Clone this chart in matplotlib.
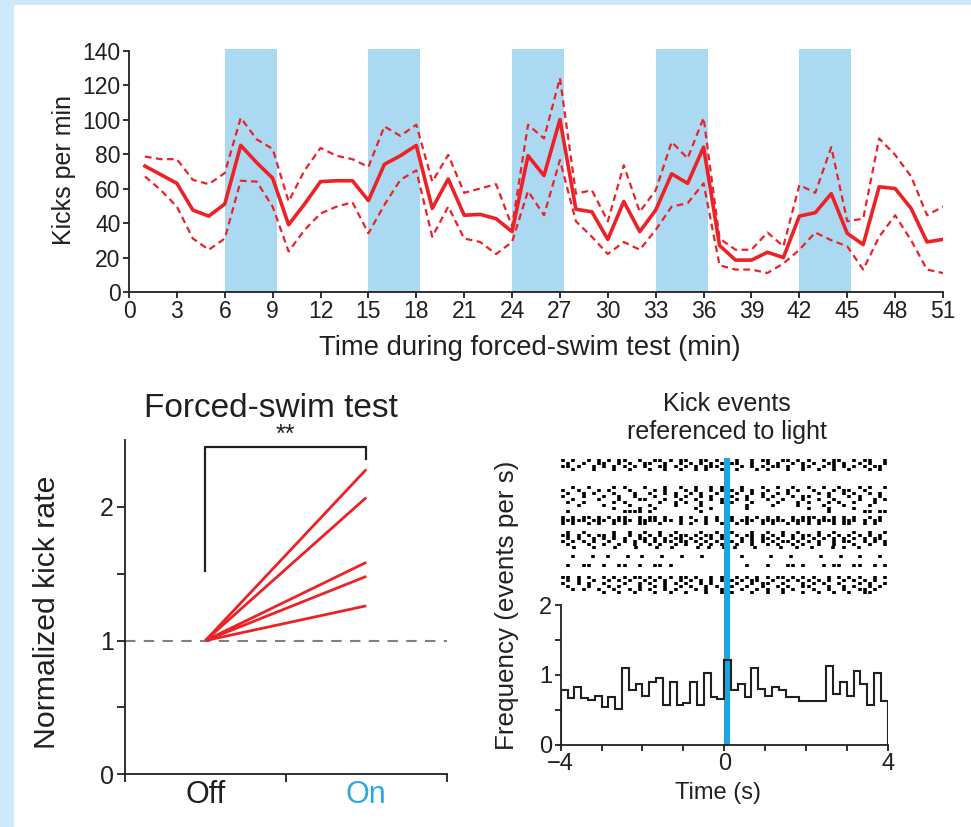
import numpy as np
import matplotlib
matplotlib.use("Agg")
import matplotlib.pyplot as plt
from matplotlib.patches import Rectangle
from matplotlib.ticker import FixedLocator

plt.rcParams['font.family'] = ['Liberation Sans', 'DejaVu Sans']

# ---- top panel: kicks per minute across the forced-swim test ----
minutes = list(range(1, 52))
kick_mean = [73, 68, 63, 47.5, 44, 51, 85, 75, 66, 39,
             51, 64, 64.5, 64.5, 53, 74, 79, 85, 48.5, 65.5,
             44.5, 45, 42.5, 35, 79, 67.5, 100, 48, 46.5, 30.5,
             52.5, 35, 47.5, 68.5, 63, 84, 27, 18.5, 18.5, 23,
             20, 44, 46, 57, 34, 27.5, 61, 60, 48.5, 29, 30.5]
kick_upper = [78.5, 77, 77, 65, 62.5, 69, 101, 88.5, 83, 52.5,
              70.5, 83.5, 79, 77, 72.5, 96, 90.5, 97, 64, 79.5,
              57.5, 60, 62.5, 38, 97, 89, 124, 57, 59, 41,
              73.5, 46.5, 59, 87, 77.5, 101, 31, 24.5, 24.5, 34.5,
              26.5, 62, 57.5, 84, 41, 42.5, 89, 79.5, 67, 44.5, 49.5]
kick_lower = [67, 59, 49.5, 31, 24.5, 31, 64.5, 64, 49.5, 23.5,
              36, 45.5, 49.5, 52, 34, 50.5, 65, 70.5, 32, 49.5,
              31, 29, 22, 29, 58.5, 44.5, 76.5, 41, 32, 22,
              29, 24.5, 36, 49.5, 51.5, 63, 15.5, 13, 13, 11,
              16.5, 24.5, 34.5, 30, 26.5, 13, 32, 44.5, 30, 13, 11]
light_on_start = [6, 15, 24, 33, 42]
light_on_len = 3.25

# ---- bottom left: normalized kick rate, light off vs on ----
conditions = ["Off", "On"]
norm_on = [2.28, 2.07, 1.585, 1.48, 1.26]

# ---- bottom right: PSTH and raster referenced to light onset ----
psth_rate = [0.78, 0.67, 0.83, 0.67, 0.64, 0.70, 0.54, 0.68, 0.51, 1.09,
             0.78, 0.87, 0.70, 0.90, 0.96, 0.56, 0.90, 0.57, 0.60, 0.90,
             0.57, 1.03, 0.68, 0.65, 1.21, 0.78, 0.87, 0.68, 1.09, 0.80,
             0.70, 0.83, 0.78, 0.68, 0.68, 0.62, 0.62, 0.62, 0.62, 1.12,
             0.72, 0.90, 0.70, 1.06, 0.87, 0.57, 1.03, 0.62]
psth_lo, psth_hi = -4, 4

# one string per trial row, top to bottom; 'x' = kick in that time slot
raster_rows = [
    "x.x..x.x.x.xx..x..xx.x.xx..xx.x.x.x..x.xx..xx.x.x..x.xx..x.xx..x",
    ".x..x..xx..x.x..xx..x..x.x.x.x.x.xx..x..x.x..x.x.x..xx.x..x.x..x",
    "xx.x..x.x.x.x.x.x..xx.x.x.x.xxx.x..x.x.x.xx.x..xx..x.x.x.x.x.xx.",
    "..x...x...x..x...x..x..x..x.x..x..x...x.x...x..x..x..x..x...x.x.",
    "", "", "", "", "",
    "..x..x....x.x...x...x..x..x..x.xx..x...x..x..x..x..x..x...x.x..x",
    "x..x...x.x...x....x.x...x.x..x.x.x.x.x..x...x.x..x...x.xx..x....",
    ".x..x.x...x...x..x..x.x..x.x..x.x.x..x.x..x.x.....x.x..x.x..x.x.",
    "x...x...x..x..x...x...x.x..x.x...x..x..x.x...x.xx...x...x.x...x.",
    "..x....x...x...xx...x..x..x..x.x..x.x...x..x...x..x..x....x..x.x",
    ".x..x.....x.x......x..x.x..x...x.x...x....x...x.x...x.x..x...x..",
    "...x....x....x...x....x....x....x...x....x....x....x...x....x...",
    "..........x....x..x.......x..x......x...........x...x....x......",
    ".x..........xxxx.x.........x....x...................x......xx.xx",
    "",
    "x.x.xx.x.x.xx..x.xx.x..x.x..x.x.xx..x.x.x.x..x.xxx.x.x.x.x..x.x.",
    "xxxxx.xxx.xxxx.xxxx.xx.x..x.x.x.xx.xxx.xxxxx.xxxx.xxxx.xxx.x.xx.",
    "x.x..x.x..x.x..xx..x...x.x..x..x..x.x..x.x..x.x.x.x..x.xx..x.x..",
    "", "",
    ".x..x.....x..x..x..x..x....x..x..x...x..x..x..x...x..x...x..x..x",
    "xx.x.x.xx.x..x.x.x.x.x.xx.x.xx.xx.x.xx.x.x.x.x.xx.x.x.x.x.x.x.x.",
    ".x.x..x.x.x.x..xx.x.x.xx.x.x.x.xx..x.x.xx.x..x.x.x.x.x.x.x.x.xx.",
    "x.x.x.x..x..x.x.x.x.xx.xx.x.x.x..x.x.x.x.x.xx.x.x.x..x.xx..x.x.x",
    ".x...x..x..x..x..x.x..x.x..x.x.x..x..x..x.x..x.x..x..x...x..x..x",
    "..x...x...x...x...x..x....x.x..x.x...x....x..x..x...x.x..x.....",
    "", "",
    "..x...x..x...x..x...x...x...x....x..x.....x...x.....x...x...x...x.",
    "", "",
    ".x..xx..x..xx..x..xx.x..............x...x...xx.x...x.xx..xx..x.x",
    "", "", "",
    "xx.x.x..x.x.x.xx.x.x.x.xx.x..x.xx.x.x.x.x.xx.x.x.x..x.x.x.x..x.x",
    ".x.x..x..x.x.x..x.x.x..x.x.x.x.x.x.x.xx..x..x.x.x.x.x..x.x.x.x..",
    "x..x.x..x...x..x.x..x.x.x..x.x..x.x..x.xx..x...x.x.x..x...x.x..x",
    ".x...x...x.x...x..x.x..x.x..x.x..x..x..x..x.x..xx...x..x.x..x.x.",
    "..x.x..x..x..x.x.x..x.x...x.x..xx..x..x.x..x.x...x..x..x..xx.x..",
    "........x..x..x...x..x..x...x..x.x...x..x..x...x..x..x..x..xx...",
]
light_pulse = 0.15

INK = '#231f20'
RED = '#ec2227'
BAND = '#acd9f2'
PULSE = '#1aa7e0'
ON_BLUE = '#2aaae2'

fig = plt.figure(figsize=(9.71, 8.27), dpi=100)
fig.patch.set_facecolor('#cde9fb')
fig.add_artist(Rectangle((14 / 971, 0), 1, 1 - 5 / 827, transform=fig.transFigure,
                         facecolor='white', edgecolor='none', zorder=-5))


def style_axes(ax, size):
    for side in ('top', 'right'):
        ax.spines[side].set_visible(False)
    for side in ('left', 'bottom'):
        ax.spines[side].set_color(INK)
        ax.spines[side].set_linewidth(1.3)
    ax.tick_params(which='both', direction='out', length=4, width=1.3, color=INK,
                   labelcolor=INK, labelsize=size, pad=2)
    ax.set_facecolor('none')


# top panel
ax1 = fig.add_axes([129 / 971, 1 - 292 / 827, 814 / 971, 243.2 / 827])
for s in light_on_start:
    ax1.axvspan(s, s + light_on_len, color=BAND, lw=0, zorder=0)
ax1.plot(minutes, kick_upper, color=RED, lw=1.6, ls=(0, (3, 2)), zorder=2)
ax1.plot(minutes, kick_lower, color=RED, lw=1.6, ls=(0, (3, 2)), zorder=2)
ax1.plot(minutes, kick_mean, color=RED, lw=2.6, zorder=3)
ax1.set_xlim(0, 51)
ax1.set_ylim(0, 141)
ax1.set_xticks(range(0, 52, 3))
ax1.set_yticks(range(0, 141, 20))
style_axes(ax1, 16.5)
ax1.spines['left'].set_bounds(0, 140)
ax1.set_xlabel("Time during forced-swim test (min)", fontsize=19.8, color=INK)
ax1.set_ylabel("Kicks per min", fontsize=18, color=INK)
ax1.xaxis.set_label_coords(0.493, -0.177)
ax1.yaxis.set_label_coords(-0.065, 0.5)

# bottom left panel
ax2 = fig.add_axes([125 / 971, 1 - 774.3 / 827, 321.7 / 971, 334.3 / 827])
ax2.plot([0, 2], [1, 1], color='#808080', lw=1.5, ls=(0, (5, 4)), zorder=1)
for v in norm_on:
    ax2.plot([0.5, 1.5], [1, v], color=RED, lw=2, solid_capstyle='butt', zorder=2)
ax2.plot([0.5, 0.5, 1.5, 1.5], [1.52, 2.45, 2.45, 2.36], color=INK, lw=1.6,
         clip_on=False)
ax2.text(1.0, 2.54, "**", ha='center', va='center', fontsize=18, color=INK)
ax2.text(0.91, 2.735, "Forced-swim test", ha='center', va='center', fontsize=24,
         color=INK)
ax2.set_xlim(0, 2)
ax2.set_ylim(0, 2.5)
style_axes(ax2, 18)
ax2.xaxis.set_major_locator(FixedLocator([0, 1, 2]))
ax2.xaxis.set_minor_locator(FixedLocator([0.5, 1.5]))
ax2.xaxis.set_major_formatter(plt.NullFormatter())
ax2.xaxis.set_minor_formatter(plt.FixedFormatter(conditions))
ax2.tick_params(axis='x', which='major', length=6)
ax2.tick_params(axis='x', which='minor', length=0, labelsize=22, pad=4)
ax2.get_xticklabels(minor=True)[1].set_color(ON_BLUE)
ax2.yaxis.set_major_locator(FixedLocator([0, 1, 2]))
ax2.yaxis.set_minor_locator(FixedLocator([0.5, 1.5]))
ax2.tick_params(axis='y', which='both', length=6)
ax2.set_ylabel("Normalized kick rate", fontsize=21.8, color=INK)
ax2.yaxis.set_label_coords(-0.2, 0.484)

# bottom right: histogram
ax3 = fig.add_axes([560.7 / 971, 1 - 744.5 / 827, 327 / 971, 139.5 / 827])
edges = np.linspace(psth_lo, psth_hi, len(psth_rate) + 1)
ax3.axvspan(0, light_pulse, color=PULSE, lw=0, zorder=1)
ax3.stairs(psth_rate, edges, color=INK, lw=1.5, zorder=2)
ax3.set_xlim(psth_lo, psth_hi)
ax3.set_ylim(0, 2)
style_axes(ax3, 17)
ax3.xaxis.set_major_locator(FixedLocator([-4, 0, 4]))
ax3.xaxis.set_minor_locator(FixedLocator([-3, -2, -1, 1, 2, 3]))
ax3.yaxis.set_major_locator(FixedLocator([0, 1, 2]))
ax3.yaxis.set_minor_locator(FixedLocator([0.5, 1.5]))
ax3.set_xlabel("Time (s)", fontsize=17, color=INK)
ax3.xaxis.set_label_coords(0.48, -0.27)
ax3.set_ylabel("Frequency (events per s)", fontsize=18.7, color=INK)
ax3.yaxis.set_label_coords(-0.128, 0.996)

# bottom right: raster
ax4 = fig.add_axes([560.7 / 971, 1 - 605 / 827, 327 / 971, 150 / 827])
for i, row in enumerate(raster_rows):
    if not row:
        continue
    slot = (psth_hi - psth_lo) / len(row)
    times = [psth_lo + (j + 0.5) * slot for j, c in enumerate(row) if c == 'x']
    ax4.eventplot(times, lineoffsets=i + 1.8, linelengths=1.0, linewidths=2.6,
                  colors='k')
ax4.axvspan(0, light_pulse, ymin=0, ymax=0.98, color=PULSE, lw=0, zorder=3)
ax4.set_xlim(psth_lo, psth_hi)
ax4.set_ylim(50, 0)
ax4.axis('off')
fig.text(727 / 971, 1 - 418 / 827, "Kick events\nreferenced to light", ha='center',
         va='center', fontsize=18, color=INK, linespacing=1.25)

fig.savefig("out.png", dpi=100)
